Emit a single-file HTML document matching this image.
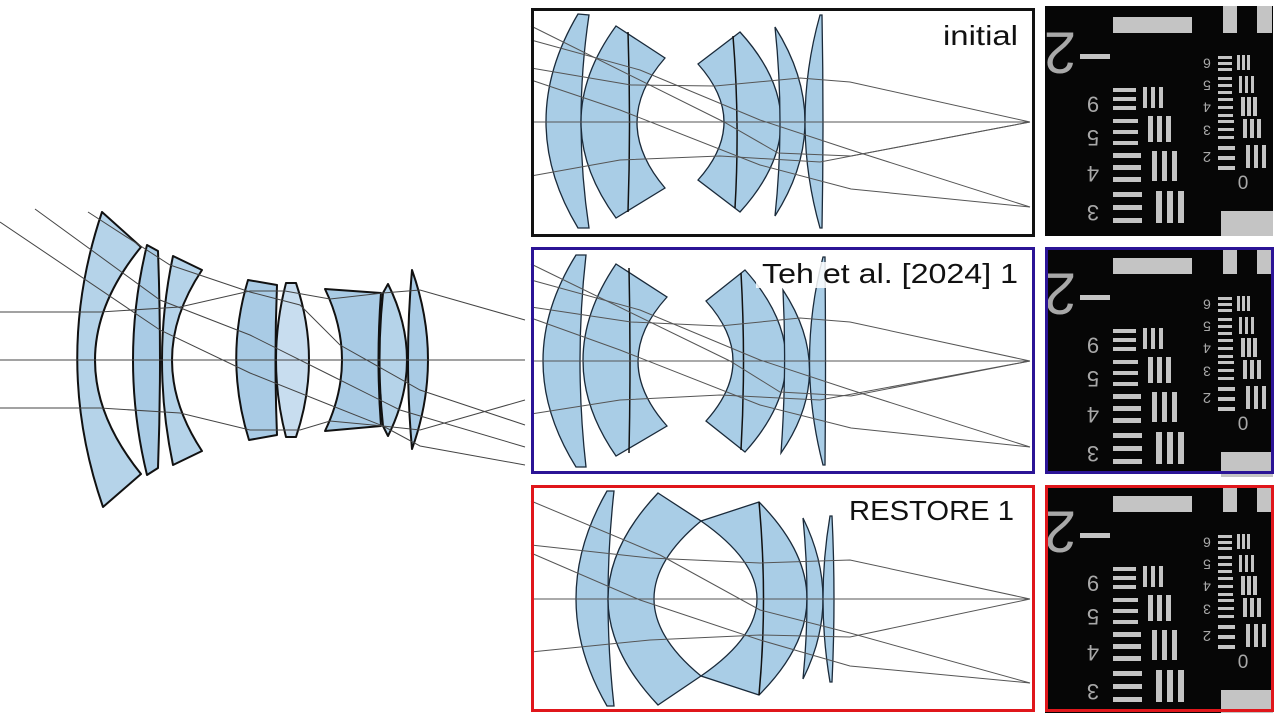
<!DOCTYPE html>
<html><head><meta charset="utf-8"><style>
html,body{margin:0;padding:0;background:#fff;}
svg{display:block;}
text{font-family:"Liberation Sans",sans-serif;}
</style></head><body>
<svg width="1280" height="720" viewBox="0 0 1280 720" xmlns="http://www.w3.org/2000/svg">
<rect width="1280" height="720" fill="#fff"/>
<!-- LEFT LENS -->
<g fill="#b5d3e9" stroke="#111" stroke-width="2" stroke-linejoin="round">
<path d="M102,212 L141,247 Q49,360 141,474 L103,507 Q52,360 102,212 Z"/>
<path d="M147,245 L158,251 Q162,360 158,468 L147,475 Q119,360 147,245 Z" fill="#a9cbe5"/>
<path d="M173,256 L202,270 Q142,360 202,451 L173,465 Q151,360 173,256 Z"/>
<path d="M248,280 L277,285 Q274,360 277,435 L249,440 Q224,360 248,280 Z" fill="#a9cbe5"/>
<path d="M286,283 L296,283 Q322,360 296,437 L286,437 Q266,360 286,283 Z" fill="#c8ddef"/>
<path d="M325,289 L381,293 Q376,360 381,426 L325,431 Q359,360 325,289 Z" fill="#a9cbe5"/>
<path d="M383,293 L388,284 Q426,360 388,436 L383,426 Q376,360 383,293 Z"/>
<path d="M412,270 Q444,360 412,449 Q404,360 412,270 Z" fill="#a9cbe5"/>
</g>
<g fill="none" stroke="#444" stroke-width="1">
<path d="M0,360 H525"/>
<path d="M0,312 L100,312 L180,307 L250,291 L285,291 L330,299 L383,293 L420,290 L525,320"/>
<path d="M0,408 L100,408 L180,413 L250,430 L300,430 L330,421 L383,426 L420,430 L525,400"/>
<path d="M0,222 L160,330 L250,373 L330,405 L383,426 L420,446 L525,465"/>
<path d="M35,209 L160,300 L250,335 L330,375 L400,410 L525,447"/>
<path d="M88,212 L170,265 L250,292 L300,305 L340,345 L420,390 L525,425"/>
</g>

<!-- PANEL 1 -->
<g fill="#a9cde6" stroke="#1a2a3a" stroke-width="1.3">
<path d="M578,14 L589,15 Q573,122 589,228 L578,228 Q514,122 578,14 Z"/>
<path d="M616,26 L665,58 Q609,122 665,188 L616,218 Q546,122 616,26 Z"/>
<path d="M698,64 L740,32 Q822,122 740,212 L698,180 Q750,122 698,64 Z"/>
<path d="M775,27 Q835,122 775,216 Q785,122 775,27 Z"/>
<path d="M820,15 L822,15 Q824,122 822,228 L820,228 Q790,122 820,15 Z"/>
</g>
<g fill="none" stroke="#111" stroke-width="1.5"><path d="M628,32 Q631,122 628,212"/><path d="M733,36 Q740,122 735,208"/></g>
<g fill="none" stroke="#555" stroke-width="1">
<path d="M531,122 H1030"/>
<path d="M531,68 L631,85 L715,86 L800,78 L850,82 L1030,122"/>
<path d="M531,176 L620,160 L720,156 L820,162 L1030,122"/>
<path d="M531,26 L724,122 L778,153 L851,156 L1030,122"/>
<path d="M531,80 L620,110 L760,165 L851,189 L1030,207"/>
<path d="M531,40 L640,70 L760,120 L851,150 L1030,207"/>
</g>
<rect x="532.5" y="9.5" width="501" height="226" fill="none" stroke="#111" stroke-width="3"/>
<text x="943" y="45" font-size="28" textLength="75" lengthAdjust="spacingAndGlyphs" fill="#111">initial</text>

<!-- PANEL 2 -->
<g fill="#a9cde6" stroke="#1a2a3a" stroke-width="1.3">
<path d="M576,255 L586,255 Q574,361 586,467 L576,467 Q510,361 576,255 Z"/>
<path d="M616,264 L667,297 Q609,361 667,426 L616,456 Q550,361 616,264 Z"/>
<path d="M706,301 L745,270 Q827,361 745,452 L706,421 Q760,361 706,301 Z"/>
<path d="M783,290 Q837,372 781,453 Q787,372 783,290 Z"/>
<path d="M823,257 L825,257 Q826,361 825,465 L823,465 Q796,361 823,257 Z"/>
</g>
<g fill="none" stroke="#111" stroke-width="1.5"><path d="M629,268 Q631,361 629,453"/><path d="M741,273 Q746,361 741,450"/></g>
<g fill="none" stroke="#555" stroke-width="1">
<path d="M531,361 H1030"/>
<path d="M531,307 L631,322 L720,326 L800,318 L850,322 L1030,361"/>
<path d="M531,414 L620,400 L720,395 L820,400 L1030,361"/>
<path d="M531,264 L730,361 L780,392 L851,396 L1030,361"/>
<path d="M531,318 L620,350 L760,405 L851,428 L1030,447"/>
<path d="M531,280 L640,310 L760,360 L851,390 L1030,447"/>
</g>
<rect x="756" y="262" width="70" height="26" fill="#fff" opacity="0.85"/>
<rect x="532.5" y="248.5" width="501" height="224" fill="none" stroke="#2b1496" stroke-width="3"/>
<text x="762" y="283" font-size="28" textLength="256" lengthAdjust="spacingAndGlyphs" fill="#111">Teh et al. [2024] 1</text>

<!-- PANEL 3 -->
<g fill="#a9cde6" stroke="#1a2a3a" stroke-width="1.3">
<path d="M607,491 L614,491 Q602,599 614,706 L607,706 Q545,599 607,491 Z"/>
<path d="M658,493 L701,521 Q607,599 701,676 L658,705 Q558,599 658,493 Z"/>
<path d="M701,521 L759,502 Q855,599 759,695 L701,676 Q813,599 701,521 Z"/>
<path d="M803,518 Q843,599 803,679 Q811,599 803,518 Z"/>
<path d="M830,516 L832,516 Q836,599 832,682 L830,682 Q816,599 830,516 Z"/>
</g>
<g fill="none" stroke="#111" stroke-width="1.5"><path d="M759,502 Q768,599 759,695"/></g>
<g fill="none" stroke="#555" stroke-width="1">
<path d="M531,599 H1030"/>
<path d="M531,545 L650,558 L760,563 L850,560 L1030,599"/>
<path d="M531,652 L650,640 L760,635 L850,637 L1030,599"/>
<path d="M531,501 L660,555 L760,610 L850,633 L1030,683"/>
<path d="M531,553 L640,600 L760,640 L850,666 L1030,683"/>
</g>
<rect x="532.5" y="486.5" width="501" height="224" fill="none" stroke="#e0161b" stroke-width="3"/>
<text x="849" y="520" font-size="28" textLength="165" lengthAdjust="spacingAndGlyphs" fill="#111">RESTORE 1</text>

<!-- CHART 1 -->
<g transform="translate(1045,6)">
<rect x="0" y="0" width="228" height="230" fill="#060606"/>
<g fill="#c4c4c4">
<rect x="68" y="11" width="79" height="16"/><rect x="178" y="0" width="14" height="27"/><rect x="212" y="0" width="15" height="27"/>
<rect x="35" y="48" width="30" height="5"/><rect x="176" y="205" width="52" height="25"/>
<rect x="68" y="82" width="23" height="4"/><rect x="68" y="91" width="23" height="4"/><rect x="68" y="100" width="23" height="4"/>
<rect x="98" y="81" width="4" height="21"/><rect x="106" y="81" width="4" height="21"/><rect x="114" y="81" width="4" height="21"/>
<rect x="68" y="113" width="25" height="4"/><rect x="68" y="124" width="25" height="4"/><rect x="68" y="135" width="25" height="4"/>
<rect x="103" y="110" width="5" height="26"/><rect x="112" y="110" width="5" height="26"/><rect x="121" y="110" width="5" height="26"/>
<rect x="68" y="147" width="28" height="5"/><rect x="68" y="159" width="28" height="5"/><rect x="68" y="171" width="28" height="5"/>
<rect x="107" y="145" width="5" height="30"/><rect x="117" y="145" width="5" height="30"/><rect x="127" y="145" width="5" height="30"/>
<rect x="68" y="186" width="29" height="5"/><rect x="68" y="199" width="29" height="5"/><rect x="68" y="212" width="29" height="5"/>
<rect x="111" y="185" width="6" height="32"/><rect x="122" y="185" width="6" height="32"/><rect x="133" y="185" width="6" height="32"/>
<rect x="173" y="50" width="14" height="3"/><rect x="173" y="56" width="14" height="3"/><rect x="173" y="62" width="14" height="3"/>
<rect x="192" y="49" width="3" height="15"/><rect x="197" y="49" width="3" height="15"/><rect x="202" y="49" width="3" height="15"/>
<rect x="173" y="71" width="14" height="3"/><rect x="173" y="78" width="14" height="3"/><rect x="173" y="85" width="14" height="3"/>
<rect x="194" y="70" width="3" height="17"/><rect x="200" y="70" width="3" height="17"/><rect x="206" y="70" width="3" height="17"/>
<rect x="173" y="92" width="15" height="3"/><rect x="173" y="100" width="15" height="3"/><rect x="173" y="108" width="15" height="3"/>
<rect x="196" y="91" width="4" height="19"/><rect x="202" y="91" width="4" height="19"/><rect x="208" y="91" width="4" height="19"/>
<rect x="173" y="114" width="16" height="3"/><rect x="173" y="122" width="16" height="3"/><rect x="173" y="130" width="16" height="3"/>
<rect x="198" y="113" width="4" height="19"/><rect x="205" y="113" width="4" height="19"/><rect x="212" y="113" width="4" height="19"/>
<rect x="173" y="140" width="17" height="4"/><rect x="173" y="150" width="17" height="4"/><rect x="173" y="160" width="17" height="4"/>
<rect x="201" y="139" width="4" height="23"/><rect x="209" y="139" width="4" height="23"/><rect x="217" y="139" width="4" height="23"/>
</g>
<g fill="#a8a8a8" text-anchor="middle">
<text transform="translate(15,42) rotate(180)" font-size="58" dominant-baseline="middle">2</text>
<text x="48" y="106" font-size="22">6</text>
<text transform="translate(48,130) rotate(180)" font-size="22" dominant-baseline="middle">5</text>
<text transform="translate(48,166) rotate(180)" font-size="22" dominant-baseline="middle">4</text>
<text transform="translate(48,205) rotate(180)" font-size="22" dominant-baseline="middle">3</text>
<text transform="translate(162,56) rotate(180)" font-size="14" dominant-baseline="middle">6</text>
<text transform="translate(162,78) rotate(180)" font-size="14" dominant-baseline="middle">5</text>
<text transform="translate(162,100) rotate(180)" font-size="14" dominant-baseline="middle">4</text>
<text transform="translate(162,123) rotate(180)" font-size="14" dominant-baseline="middle">3</text>
<text transform="translate(162,150) rotate(180)" font-size="15" dominant-baseline="middle">2</text>
<text x="198" y="183" font-size="19">0</text>
</g>
</g>

<!-- CHART 2 -->
<g transform="translate(1045,247)">
<rect x="0" y="0" width="228" height="226" fill="#060606"/>
<g fill="#c4c4c4">
<rect x="68" y="11" width="79" height="16"/><rect x="178" y="0" width="14" height="27"/><rect x="212" y="0" width="15" height="27"/>
<rect x="35" y="48" width="30" height="5"/><rect x="176" y="205" width="52" height="25"/>
<rect x="68" y="82" width="23" height="4"/><rect x="68" y="91" width="23" height="4"/><rect x="68" y="100" width="23" height="4"/>
<rect x="98" y="81" width="4" height="21"/><rect x="106" y="81" width="4" height="21"/><rect x="114" y="81" width="4" height="21"/>
<rect x="68" y="113" width="25" height="4"/><rect x="68" y="124" width="25" height="4"/><rect x="68" y="135" width="25" height="4"/>
<rect x="103" y="110" width="5" height="26"/><rect x="112" y="110" width="5" height="26"/><rect x="121" y="110" width="5" height="26"/>
<rect x="68" y="147" width="28" height="5"/><rect x="68" y="159" width="28" height="5"/><rect x="68" y="171" width="28" height="5"/>
<rect x="107" y="145" width="5" height="30"/><rect x="117" y="145" width="5" height="30"/><rect x="127" y="145" width="5" height="30"/>
<rect x="68" y="186" width="29" height="5"/><rect x="68" y="199" width="29" height="5"/><rect x="68" y="212" width="29" height="5"/>
<rect x="111" y="185" width="6" height="32"/><rect x="122" y="185" width="6" height="32"/><rect x="133" y="185" width="6" height="32"/>
<rect x="173" y="50" width="14" height="3"/><rect x="173" y="56" width="14" height="3"/><rect x="173" y="62" width="14" height="3"/>
<rect x="192" y="49" width="3" height="15"/><rect x="197" y="49" width="3" height="15"/><rect x="202" y="49" width="3" height="15"/>
<rect x="173" y="71" width="14" height="3"/><rect x="173" y="78" width="14" height="3"/><rect x="173" y="85" width="14" height="3"/>
<rect x="194" y="70" width="3" height="17"/><rect x="200" y="70" width="3" height="17"/><rect x="206" y="70" width="3" height="17"/>
<rect x="173" y="92" width="15" height="3"/><rect x="173" y="100" width="15" height="3"/><rect x="173" y="108" width="15" height="3"/>
<rect x="196" y="91" width="4" height="19"/><rect x="202" y="91" width="4" height="19"/><rect x="208" y="91" width="4" height="19"/>
<rect x="173" y="114" width="16" height="3"/><rect x="173" y="122" width="16" height="3"/><rect x="173" y="130" width="16" height="3"/>
<rect x="198" y="113" width="4" height="19"/><rect x="205" y="113" width="4" height="19"/><rect x="212" y="113" width="4" height="19"/>
<rect x="173" y="140" width="17" height="4"/><rect x="173" y="150" width="17" height="4"/><rect x="173" y="160" width="17" height="4"/>
<rect x="201" y="139" width="4" height="23"/><rect x="209" y="139" width="4" height="23"/><rect x="217" y="139" width="4" height="23"/>
</g>
<g fill="#a8a8a8" text-anchor="middle">
<text transform="translate(15,42) rotate(180)" font-size="58" dominant-baseline="middle">2</text>
<text x="48" y="106" font-size="22">6</text>
<text transform="translate(48,130) rotate(180)" font-size="22" dominant-baseline="middle">5</text>
<text transform="translate(48,166) rotate(180)" font-size="22" dominant-baseline="middle">4</text>
<text transform="translate(48,205) rotate(180)" font-size="22" dominant-baseline="middle">3</text>
<text transform="translate(162,56) rotate(180)" font-size="14" dominant-baseline="middle">6</text>
<text transform="translate(162,78) rotate(180)" font-size="14" dominant-baseline="middle">5</text>
<text transform="translate(162,100) rotate(180)" font-size="14" dominant-baseline="middle">4</text>
<text transform="translate(162,123) rotate(180)" font-size="14" dominant-baseline="middle">3</text>
<text transform="translate(162,150) rotate(180)" font-size="15" dominant-baseline="middle">2</text>
<text x="198" y="183" font-size="19">0</text>
</g>
</g>
<rect x="1046.5" y="248.5" width="226" height="224" fill="none" stroke="#2b1496" stroke-width="3"/>

<!-- CHART 3 -->
<g transform="translate(1045,485)">
<rect x="0" y="0" width="228" height="228" fill="#060606"/>
<g fill="#c4c4c4">
<rect x="68" y="11" width="79" height="16"/><rect x="178" y="0" width="14" height="27"/><rect x="212" y="0" width="15" height="27"/>
<rect x="35" y="48" width="30" height="5"/><rect x="176" y="205" width="52" height="23"/>
<rect x="68" y="82" width="23" height="4"/><rect x="68" y="91" width="23" height="4"/><rect x="68" y="100" width="23" height="4"/>
<rect x="98" y="81" width="4" height="21"/><rect x="106" y="81" width="4" height="21"/><rect x="114" y="81" width="4" height="21"/>
<rect x="68" y="113" width="25" height="4"/><rect x="68" y="124" width="25" height="4"/><rect x="68" y="135" width="25" height="4"/>
<rect x="103" y="110" width="5" height="26"/><rect x="112" y="110" width="5" height="26"/><rect x="121" y="110" width="5" height="26"/>
<rect x="68" y="147" width="28" height="5"/><rect x="68" y="159" width="28" height="5"/><rect x="68" y="171" width="28" height="5"/>
<rect x="107" y="145" width="5" height="30"/><rect x="117" y="145" width="5" height="30"/><rect x="127" y="145" width="5" height="30"/>
<rect x="68" y="186" width="29" height="5"/><rect x="68" y="199" width="29" height="5"/><rect x="68" y="212" width="29" height="5"/>
<rect x="111" y="185" width="6" height="32"/><rect x="122" y="185" width="6" height="32"/><rect x="133" y="185" width="6" height="32"/>
<rect x="173" y="50" width="14" height="3"/><rect x="173" y="56" width="14" height="3"/><rect x="173" y="62" width="14" height="3"/>
<rect x="192" y="49" width="3" height="15"/><rect x="197" y="49" width="3" height="15"/><rect x="202" y="49" width="3" height="15"/>
<rect x="173" y="71" width="14" height="3"/><rect x="173" y="78" width="14" height="3"/><rect x="173" y="85" width="14" height="3"/>
<rect x="194" y="70" width="3" height="17"/><rect x="200" y="70" width="3" height="17"/><rect x="206" y="70" width="3" height="17"/>
<rect x="173" y="92" width="15" height="3"/><rect x="173" y="100" width="15" height="3"/><rect x="173" y="108" width="15" height="3"/>
<rect x="196" y="91" width="4" height="19"/><rect x="202" y="91" width="4" height="19"/><rect x="208" y="91" width="4" height="19"/>
<rect x="173" y="114" width="16" height="3"/><rect x="173" y="122" width="16" height="3"/><rect x="173" y="130" width="16" height="3"/>
<rect x="198" y="113" width="4" height="19"/><rect x="205" y="113" width="4" height="19"/><rect x="212" y="113" width="4" height="19"/>
<rect x="173" y="140" width="17" height="4"/><rect x="173" y="150" width="17" height="4"/><rect x="173" y="160" width="17" height="4"/>
<rect x="201" y="139" width="4" height="23"/><rect x="209" y="139" width="4" height="23"/><rect x="217" y="139" width="4" height="23"/>
</g>
<g fill="#a8a8a8" text-anchor="middle">
<text transform="translate(15,42) rotate(180)" font-size="58" dominant-baseline="middle">2</text>
<text x="48" y="106" font-size="22">6</text>
<text transform="translate(48,130) rotate(180)" font-size="22" dominant-baseline="middle">5</text>
<text transform="translate(48,166) rotate(180)" font-size="22" dominant-baseline="middle">4</text>
<text transform="translate(48,205) rotate(180)" font-size="22" dominant-baseline="middle">3</text>
<text transform="translate(162,56) rotate(180)" font-size="14" dominant-baseline="middle">6</text>
<text transform="translate(162,78) rotate(180)" font-size="14" dominant-baseline="middle">5</text>
<text transform="translate(162,100) rotate(180)" font-size="14" dominant-baseline="middle">4</text>
<text transform="translate(162,123) rotate(180)" font-size="14" dominant-baseline="middle">3</text>
<text transform="translate(162,150) rotate(180)" font-size="15" dominant-baseline="middle">2</text>
<text x="198" y="183" font-size="19">0</text>
</g>
</g>
<rect x="1046.5" y="486.5" width="226" height="224" fill="none" stroke="#e0161b" stroke-width="3"/>
</svg>
</body></html>
